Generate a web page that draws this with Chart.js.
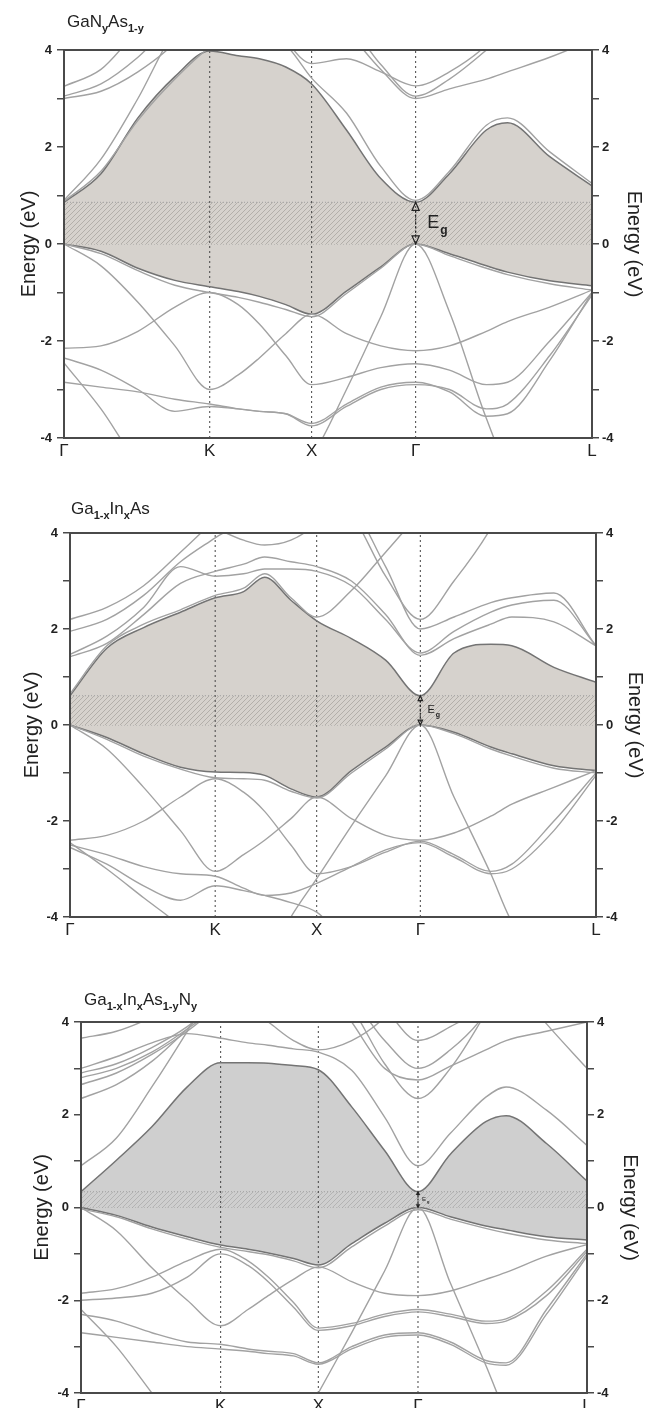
<!DOCTYPE html>
<html>
<head>
<meta charset="utf-8">
<script src="https://cdn.jsdelivr.net/npm/chart.js@4.4.1/dist/chart.umd.min.js"></script>
<style>
  body { margin: 0; background: #fff; }
  #page { position: relative; width: 647px; height: 1408px; overflow: hidden;
          font-family: 'Liberation Sans', Arial, sans-serif; color: #222; }
  canvas { position: absolute; left: 0; }
  .ttl { position: absolute; font-size: 17px; line-height: 20px; white-space: nowrap; }
  .ttl sub { font-size: 11px; font-weight: bold; vertical-align: -5px; line-height: 0; }
</style>
</head>
<body>
<div id="page">
  <canvas id="c1" width="647" height="470" style="top:0px"></canvas>
  <canvas id="c2" width="647" height="480" style="top:470px"></canvas>
  <canvas id="c3" width="647" height="458" style="top:950px"></canvas>
  <div class="ttl" style="left:67px;top:12px">GaN<sub>y</sub>As<sub>1-y</sub></div>
  <div class="ttl" style="left:71px;top:499px">Ga<sub>1-x</sub>In<sub>x</sub>As</div>
  <div class="ttl" style="left:84px;top:990px">Ga<sub>1-x</sub>In<sub>x</sub>As<sub>1-y</sub>N<sub>y</sub></div>
</div>
<script>
// k-path: high-symmetry points and the sampling grid shared by every band
const kLabels = ['Γ', 'K', 'X', 'Γ', 'L'];
const kPos = [0, 0.276, 0.469, 0.666, 1];
const kGrid = [0, 0.07, 0.14, 0.21, 0.276, 0.33, 0.37, 0.42, 0.469, 0.535, 0.60, 0.666, 0.73, 0.80, 0.84, 0.92, 1];

// GaNAs
const gaNAsGap = 0.86;
const gaNAsCB = [0.86, 1.45, 2.6, 3.45, 3.98, 3.88, 3.82, 3.65, 3.3, 2.35, 1.35, 0.86, 1.45, 2.35, 2.5, 1.8, 1.2];
const gaNAsVB = [0, -0.15, -0.5, -0.75, -0.88, -0.98, -1.08, -1.25, -1.45, -0.97, -0.47, 0, -0.2, -0.45, -0.58, -0.76, -0.86];
const gaNAsBands = [
  [0.88, 1.5, 2.55, 3.4, 4.05, 4.3, 4.3, 4.1, 3.42, 2.7, 1.6, 0.9, 1.5, 2.45, 2.6, 1.9, 1.25],
  [0.9, 1.75, 3.0, 4.4, 5, 5, 5, 5, 5, 5, 5, 5, 5, 5, 5, 5, 5],
  [3.25, 3.6, 4.4, 5, 5, 5, 5, 4.2, 3.72, 3.82, 3.55, 3.26, 3.55, 4.1, 4.6, 5, 5],
  [3.05, 3.3, 3.85, 4.6, 5, 5, 5, 5, 5, 4.6, 3.7, 3.05, 3.4, 4.0, 4.4, 5, 5],
  [3.0, 3.15, 3.55, 4.15, 5, 5, 5, 5, 5, 4.4, 3.6, 3.0, 3.2, 3.4, 3.55, 3.85, 4.2],
  [0, -0.2, -0.55, -0.85, -1.0, -1.1, -1.2, -1.35, -1.5, -1.02, -0.5, 0, -0.24, -0.5, -0.63, -0.82, -0.95],
  [-2.15, -2.1, -1.8, -1.3, -1.0, -1.25, -1.65, -2.3, -2.9, -2.75, -2.55, -2.47, -2.6, -2.9, -2.85, -2.0, -1.0],
  [0, -0.45, -1.2, -2.1, -3.0, -2.7, -2.35, -1.85, -1.45, -1.85, -2.1, -2.2, -2.1, -1.8, -1.6, -1.3, -0.95],
  [-2.45, -3.4, -4.5, -5, -5, -5, -5, -5, -4.4, -3.0, -1.5, 0, -1.4, -3.6, -4.6, -5, -5],
  [-2.35, -2.6, -3.0, -3.45, -3.35, -3.4, -3.45, -3.5, -3.7, -3.3, -2.95, -2.85, -3.05, -3.55, -3.5, -2.4, -1.0],
  [-2.85, -2.95, -3.05, -3.2, -3.3, -3.4, -3.45, -3.5, -3.75, -3.35, -3.0, -2.9, -3.0, -3.4, -3.3, -2.3, -1.05]
];

// GaInAs
const gaInAsGap = 0.61;
const gaInAsCB = [0.61, 1.6, 2.03, 2.35, 2.65, 2.78, 3.08, 2.6, 2.17, 1.8, 1.35, 0.61, 1.5, 1.68, 1.65, 1.2, 0.89];
const gaInAsVB = [0, -0.26, -0.6, -0.88, -0.98, -0.99, -1.05, -1.33, -1.5, -0.95, -0.46, 0, -0.15, -0.46, -0.6, -0.85, -0.95];
const gaInAsBands = [
  [0, -0.3, -0.65, -0.92, -1.1, -1.12, -1.15, -1.38, -1.52, -1.0, -0.5, 0, -0.18, -0.5, -0.65, -0.9, -1.0],
  [-2.4, -2.3, -2.0, -1.5, -1.12, -1.4, -1.8, -2.5, -3.1, -2.95, -2.65, -2.42, -2.7, -3.05, -2.9, -2.0, -1.0],
  [0, -0.5, -1.3, -2.2, -3.05, -2.7, -2.4, -1.95, -1.5, -1.95, -2.3, -2.4, -2.25, -1.9, -1.65, -1.3, -0.95],
  [-2.45, -3.0, -3.6, -4.2, -5, -5, -5, -4.0, -3.2, -2.1, -1.06, 0, -1.5, -3.1, -4.1, -5, -5],
  [-2.5, -2.7, -2.95, -3.1, -3.15, -3.4, -3.55, -3.5, -3.3, -2.95, -2.6, -2.45, -2.75, -3.1, -3.0, -2.2, -1.05],
  [-2.55, -2.9, -3.35, -3.65, -3.35, -3.45, -3.55, -3.7, -3.9, -4.6, -5, -5, -5, -5, -5, -5, -5],
  [1.42, 1.7, 2.3, 2.95, 3.2, 3.35, 3.5, 3.4, 3.3, 3.0, 2.3, 1.45, 1.8, 2.1, 2.25, 2.15, 1.65],
  [1.47, 1.85, 2.45, 3.3, 3.1, 3.15, 3.25, 3.25, 3.2, 2.9, 2.2, 1.5, 1.95, 2.35, 2.5, 2.6, 1.65],
  [2.2, 2.45, 2.9, 3.6, 4.3, 5, 5, 5, 5, 4.4, 3.1, 2.2, 3.0, 4.1, 5, 5, 5],
  [1.95, 2.2, 2.7, 3.4, 3.9, 4.3, 5, 5, 5, 4.6, 3.3, 2.0, 2.25, 2.55, 2.65, 2.75, 1.65],
  [5, 5, 5, 4.4, 4.1, 3.85, 3.75, 3.85, 4.2, 5, 5, 5, 5, 5, 5, 5, 5],
  [0.65, 1.65, 2.1, 2.4, 2.7, 2.85, 3.15, 2.65, 2.25, 2.8, 3.6, 4.4, 5, 5, 5, 5, 5]
];

// GaInAsN
const gaInAsNGap = 0.34;
const gaInAsNCB = [0.34, 1.02, 1.74, 2.6, 3.12, 3.12, 3.11, 3.06, 2.97, 2.17, 1.23, 0.34, 1.15, 1.85, 1.98, 1.38, 0.57];
const gaInAsNVB = [0, -0.17, -0.42, -0.63, -0.81, -0.9, -0.98, -1.1, -1.24, -0.78, -0.34, 0, -0.2, -0.4, -0.48, -0.63, -0.7];
const gaInAsNBands = [
  [-0.03, -0.2, -0.46, -0.68, -0.86, -0.95, -1.02, -1.15, -1.3, -0.85, -0.4, -0.05, -0.25, -0.45, -0.55, -0.7, -0.78],
  [-1.85, -1.75, -1.5, -1.15, -0.9, -1.15, -1.5, -2.05, -2.6, -2.5, -2.3, -2.2, -2.3, -2.45, -2.4, -1.8, -0.9],
  [0, -0.5, -1.3, -2.0, -2.55, -2.2, -1.9, -1.55, -1.28, -1.6, -1.85, -1.9, -1.8, -1.55, -1.4, -1.05, -0.8],
  [-2.0, -1.95, -1.85, -1.5, -1.0, -1.25, -1.6, -2.15, -2.65, -2.55, -2.35, -2.25, -2.35, -2.5, -2.45, -1.9, -0.95],
  [-2.3, -2.45, -2.7, -2.9, -2.95, -3.05, -3.1, -3.15, -3.35, -3.0, -2.75, -2.7, -2.9, -3.3, -3.35, -2.2, -1.0],
  [-2.7, -2.8, -2.9, -3.0, -3.05, -3.1, -3.15, -3.2, -3.38, -3.05, -2.8, -2.75, -2.95, -3.35, -3.4, -2.3, -1.05],
  [-2.2, -3.0, -4.0, -5, -5, -5, -5, -5, -4.0, -2.7, -1.37, 0, -1.63, -3.4, -4.4, -5, -5],
  [0.9, 1.5, 2.6, 3.8, 5, 5, 5, 5, 5, 5, 5, 5, 5, 5, 5, 5, 5],
  [3.0, 3.25, 3.55, 3.75, 3.65, 3.55, 3.5, 3.42, 3.35, 2.96, 1.95, 0.9, 1.6, 2.38, 2.6, 2.1, 1.34],
  [2.9, 3.1, 3.45, 3.9, 4.5, 5, 5, 5, 5, 4.3, 3.1, 2.35, 3.0, 4.2, 5, 5, 5],
  [2.8, 3.0, 3.35, 3.85, 4.4, 5, 5, 5, 5, 4.0, 3.0, 2.75, 3.05, 3.4, 3.6, 3.8, 4.0],
  [2.65, 2.9, 3.3, 3.8, 4.4, 5, 5, 5, 5, 4.5, 3.6, 3.0, 3.4, 4.2, 5, 5, 5],
  [2.35, 2.65, 3.15, 3.85, 4.6, 5, 5, 5, 5, 5, 4.3, 3.6, 3.9, 4.4, 5, 5, 5],
  [3.65, 3.8, 4.1, 4.5, 5, 4.3, 4.0, 3.6, 3.4, 3.6, 4.1, 5, 5, 5, 5, 5, 5],
  [5, 5, 5, 5, 5, 5, 5, 5, 5, 5, 5, 5, 5, 5, 5, 3.96, 3.0]
];

const FONT = "'Liberation Sans', Arial, sans-serif";
Chart.defaults.font.family = FONT;
Chart.defaults.color = '#222';

// diagonal hatch used for the gap strip
function hatch(bg, fg) {
  const c = document.createElement('canvas');
  c.width = 5; c.height = 5;
  const g = c.getContext('2d');
  g.fillStyle = bg;
  g.fillRect(0, 0, 5, 5);
  g.strokeStyle = fg;
  g.lineWidth = 0.8;
  g.beginPath();
  g.moveTo(0, 5); g.lineTo(5, 0);
  g.moveTo(-1, 1); g.lineTo(1, -1);
  g.moveTo(4, 6); g.lineTo(6, 4);
  g.stroke();
  return g.createPattern(c, 'repeat');
}

const frame = {
  id: 'frame',
  afterDatasetsDraw(chart) {
    const { ctx, chartArea: a } = chart;
    ctx.save();
    ctx.strokeStyle = '#4a4a4a';
    ctx.lineWidth = 2;
    ctx.strokeRect(a.left, a.top, a.right - a.left, a.bottom - a.top);
    ctx.restore();
  }
};

// double arrow + E_g label at the zone-centre gap
const gapMark = {
  id: 'gapMark',
  afterDatasetsDraw(chart, args, o) {
    const { ctx, scales: { x, y } } = chart;
    const px = x.getPixelForValue(kPos[3]);
    const top = y.getPixelForValue(o.gap), bot = y.getPixelForValue(0);
    const s = o.size, h = s * 0.45, w = s * 0.2;
    ctx.save();
    ctx.strokeStyle = '#222';
    ctx.lineWidth = 1.2;
    ctx.setLineDash([2, 2]);
    ctx.beginPath();
    ctx.moveTo(px, top + h); ctx.lineTo(px, bot - h);
    ctx.stroke();
    ctx.setLineDash([]);
    ctx.beginPath();
    ctx.moveTo(px, top); ctx.lineTo(px - w, top + h); ctx.lineTo(px + w, top + h); ctx.closePath();
    ctx.moveTo(px, bot); ctx.lineTo(px - w, bot - h); ctx.lineTo(px + w, bot - h); ctx.closePath();
    ctx.stroke();
    ctx.fillStyle = '#222';
    ctx.textBaseline = 'middle';
    ctx.font = s + 'px ' + FONT;
    const tx = px + s * 0.65, ty = (top + bot) / 2;
    ctx.fillText('E', tx, ty);
    const ew = ctx.measureText('E').width;
    ctx.font = 'bold ' + Math.round(s * 0.65) + 'px ' + FONT;
    ctx.fillText('g', tx + ew + 1, ty + s * 0.4);
    ctx.restore();
  }
};

function yAxis(pos, o) {
  const left = pos === 'left';
  return {
    position: pos, min: -4, max: 4,
    afterFit: s => { s.width = left ? o.left : o.right; },
    grid: { drawOnChartArea: false, tickLength: 7, color: '#4a4a4a', lineWidth: 1.5 },
    border: { display: false },
    ticks: { stepSize: 1, padding: left ? 5 : 3, color: '#222',
             font: { size: 13, weight: 'bold' },
             callback: v => (v % 2 === 0 ? String(v) : '') },
    title: { display: true, text: 'Energy (eV)', color: '#222', font: { size: 20 },
             padding: { top: left ? o.tl : o.tr, bottom: 0 } }
  };
}

function panel(id, o) {
  const pts = v => kGrid.map((x, i) => ({ x, y: v[i] }));
  const line = (v, c, w) => ({ data: pts(v), borderColor: c, borderWidth: w, pointRadius: 0,
                               cubicInterpolationMode: 'monotone', fill: false });
  const ds = o.bands.map(b => line(b, '#a2a2a2', 1.4));
  ds.push(line(o.cb, '#747474', 1.5), line(o.vb, '#747474', 1.5));
  // dotted markers at K, X, Γ
  kPos.slice(1, 4).forEach(k => ds.push({
    data: [{ x: k, y: -4 }, { x: k, y: 4 }], borderColor: '#444', borderWidth: 1,
    borderDash: [2, 3], pointRadius: 0
  }));
  // hatched gap strip
  ds.push({ data: [{ x: 0, y: o.gap }, { x: 1, y: o.gap }], borderColor: '#a0a0a0', borderWidth: 1,
            borderDash: [1, 2], pointRadius: 0, fill: '+1', backgroundColor: hatch(o.shade, o.hatch) });
  ds.push({ data: [{ x: 0, y: 0 }, { x: 1, y: 0 }], borderColor: '#a0a0a0', borderWidth: 1,
            borderDash: [1, 2], pointRadius: 0 });
  // shaded region between the band edges
  ds.push({ data: pts(o.cb), borderWidth: 0, borderColor: 'rgba(0,0,0,0)', pointRadius: 0,
            cubicInterpolationMode: 'monotone', fill: '+1', backgroundColor: o.shade });
  ds.push({ data: pts(o.vb), borderWidth: 0, borderColor: 'rgba(0,0,0,0)', pointRadius: 0,
            cubicInterpolationMode: 'monotone' });

  new Chart(document.getElementById(id), {
    type: 'line',
    data: { datasets: ds },
    options: {
      responsive: false, animation: false, devicePixelRatio: 1,
      layout: { padding: { top: o.top, left: 0, right: 0, bottom: 0 } },
      plugins: { legend: { display: false }, tooltip: { enabled: false },
                 gapMark: { gap: o.gap, size: o.eSize } },
      scales: {
        x: {
          type: 'linear', min: 0, max: 1,
          afterBuildTicks: s => { s.ticks = kPos.map(value => ({ value })); },
          afterFit: s => { s.height = o.xh; },
          grid: { display: false, drawTicks: false },
          border: { display: false },
          ticks: { autoSkip: false, maxRotation: 0, padding: 3, color: '#222',
                   font: { size: 17 }, callback: (v, i) => kLabels[i] }
        },
        y: yAxis('left', o),
        y2: yAxis('right', o)
      }
    },
    plugins: [frame, gapMark]
  });
}

panel('c1', { cb: gaNAsCB, vb: gaNAsVB, bands: gaNAsBands, gap: gaNAsGap,
              shade: '#d6d2cd', hatch: '#aaa6a1', eSize: 18,
              top: 50, xh: 32, left: 64, right: 55, tl: 17, tr: 1 });
panel('c2', { cb: gaInAsCB, vb: gaInAsVB, bands: gaInAsBands, gap: gaInAsGap,
              shade: '#d6d2cd', hatch: '#aaa6a1', eSize: 11,
              top: 63, xh: 33, left: 70, right: 51, tl: 20, tr: 0 });
panel('c3', { cb: gaInAsNCB, vb: gaInAsNVB, bands: gaInAsNBands, gap: gaInAsNGap,
              shade: '#cfcfcf', hatch: '#adadad', eSize: 6,
              top: 72, xh: 15, left: 81, right: 60, tl: 30, tr: 5 });
</script>
</body>
</html>
